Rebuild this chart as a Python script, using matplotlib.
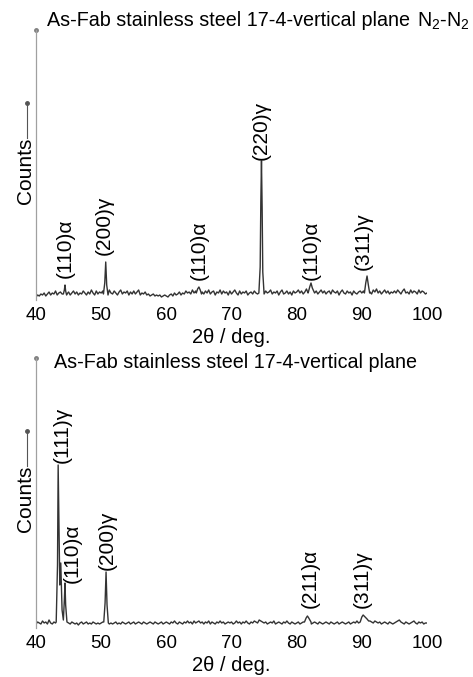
import matplotlib
matplotlib.use("Agg")
import matplotlib.pyplot as plt
import numpy as np

plt.rcParams['font.family'] = ['Liberation Sans', 'DejaVu Sans']
plt.rcParams['mathtext.fontset'] = 'custom'
plt.rcParams['mathtext.rm'] = 'Liberation Sans'
plt.rcParams['mathtext.it'] = 'Liberation Sans:italic'

# background noise, 2theta from 40 to 100 every 0.25 deg
grid = np.arange(40, 100.001, 0.25)
top_bg = [0, 2, 1, 3, 2, 4, 1, 3, 5, 2, 4, 3, 6, 2, 4, 5, 3, 6, 4, 3,
          5, 2, 4, 6, 3, 5, 2, 4, 3, 6, 4, 2, 5, 3, 7, 4, 2, 6, 3, 5,
          4, 6, 3, 5, 2, 7, 4, 3, 6, 4, 2, 5, 7, 3, 5, 4, 6, 2, 5, 3,
          6, 3, 5, 7, 2, 4, 3, 5, 2, 3, 1, 2, 3, 1, 2, 1, 2, 0, 1, 2,
          1, 0, 2, 3, 1, 4, 2, 3, 5, 2, 4, 3, 6, 4, 5, 3, 7, 4, 6, 5,
          7, 4, 5, 3, 6, 4, 7, 3, 5, 6, 2, 5, 4, 7, 3, 6, 4, 5, 2, 6,
          3, 5, 7, 4, 2, 6, 3, 5, 4, 6, 2, 4, 5, 3, 6, 4, 3, 5, 2, 4,
          3, 6, 4, 5, 7, 3, 5, 4, 6, 2, 5, 7, 3, 4, 6, 3, 5, 2, 6, 4,
          5, 7, 4, 6, 3, 5, 8, 4, 6, 5, 7, 4, 6, 3, 5, 7, 4, 6, 3, 5,
          6, 3, 7, 5, 4, 6, 2, 5, 7, 4, 3, 6, 4, 5, 2, 6, 4, 3, 5, 6,
          4, 6, 5, 7, 4, 5, 3, 7, 5, 8, 4, 6, 3, 5, 7, 4, 6, 3, 5, 4,
          6, 4, 7, 5, 3, 6, 8, 4, 5, 3, 7, 4, 6, 5, 3, 7, 4, 6, 5, 3,
          4]
bot_bg = [1, 3, 2, 1, 4, 2, 3, 1, 5, 2, 1, 3, 2, 1, 2, 3, 2, 1, 2, 3,
          2, 1, 3, 2, 1, 2, 0, 2, 3, 1, 2, 3, 1, 2, 1, 3, 2, 1, 2, 1,
          2, 3, 1, 2, 3, 1, 2, 1, 2, 3, 1, 2, 1, 3, 2, 1, 2, 3, 1, 2,
          3, 1, 2, 3, 2, 1, 3, 2, 1, 2, 3, 2, 1, 3, 2, 1, 2, 3, 1, 2,
          3, 2, 1, 3, 2, 4, 2, 1, 3, 2, 1, 3, 2, 4, 2, 3, 1, 4, 2, 3,
          4, 2, 3, 1, 3, 2, 4, 1, 3, 2, 1, 3, 2, 4, 2, 3, 1, 2, 3, 2,
          3, 1, 2, 4, 2, 3, 1, 3, 2, 4, 2, 1, 3, 2, 4, 3, 2, 5, 4, 3,
          2, 3, 1, 2, 3, 2, 4, 1, 2, 3, 2, 1, 3, 2, 4, 2, 1, 3, 2, 1,
          2, 3, 1, 2, 3, 2, 1, 3, 2, 1, 2, 3, 2, 1, 3, 2, 1, 2, 3, 2,
          1, 3, 2, 1, 2, 3, 1, 2, 3, 2, 1, 2, 3, 1, 2, 3, 2, 4, 2, 3,
          3, 4, 2, 3, 2, 4, 3, 2, 4, 3, 2, 3, 1, 2, 3, 2, 1, 3, 2, 1,
          2, 3, 4, 5, 3, 2, 1, 3, 2, 1, 2, 3, 4, 2, 1, 3, 2, 3, 1, 2,
          2]

# peak profiles (2theta, counts)
top_peaks_x = [[44.2, 44.35, 44.45, 44.55, 44.7],
               [50.35, 50.55, 50.7, 50.85, 51.05],
               [64.6, 64.8, 65.0, 65.2, 65.4],
               [74.2, 74.4, 74.5, 74.6, 74.7, 74.8, 75.0],
               [81.8, 82.0, 82.2, 82.4, 82.6],
               [90.4, 90.6, 90.8, 91.0, 91.2]]
top_peaks_y = [[3, 7, 12, 6, 2],
               [3, 14, 35, 12, 2],
               [4, 8, 10, 7, 3],
               [4, 30, 95, 136, 90, 25, 3],
               [5, 10, 14, 9, 6],
               [4, 14, 21, 12, 4]]
bot_peaks_x = [[43.1, 43.3, 43.4, 43.5, 43.65, 43.8, 44.0, 44.2, 44.35, 44.45, 44.55, 44.75],
               [50.4, 50.6, 50.75, 50.9, 51.1],
               [81.2, 81.45, 81.65, 81.85, 82.2],
               [89.8, 90.0, 90.2, 90.5, 90.8, 91.05]]
bot_peaks_y = [[3, 60, 160, 110, 40, 62, 15, 5, 25, 42, 20, 3],
               [3, 22, 53, 20, 2],
               [3, 7, 9, 7, 3],
               [4, 8, 10, 8, 6, 4]]

top_labels = ['(110)α', '(200)γ', '(110)α', '(220)γ', '(110)α', '(311)γ']
bot_labels = ['(111)γ', '(110)α', '(200)γ', '(211)α', '(311)γ']
# peak each label sits on (2theta, counts)
top_label_peak = [(44.45, 12), (50.7, 35), (65.0, 10), (74.6, 136), (82.2, 14), (90.8, 21)]
bot_label_peak = [(43.4, 160), (44.45, 42), (50.75, 53), (81.65, 9), (90.2, 10)]
top_offsets = [(0, 7), (-1, 7), (0, 7), (0, 1), (0, 3), (-4, 6)]
bot_offsets = [(4, 2), (7, 0), (1, 2), (3, 8), (-1, 7)]


def merge(bg, px, py):
    x = np.array(grid)
    y = np.array(bg, dtype=float)
    keep = np.ones(len(x), dtype=bool)
    for xs in px:
        keep &= ~((x >= xs[0]) & (x <= xs[-1]))
    x = np.concatenate([x[keep]] + [np.array(p) for p in px])
    y = np.concatenate([y[keep]] + [np.array(p, dtype=float) for p in py])
    order = np.argsort(x)
    return x[order], y[order]


def draw(ax, bg, px, py, labels, anchors, offsets):
    x, y = merge(bg, px, py)
    ax.plot(x, y, color='#333333', lw=1.0)
    ax.set_xlim(40, 100)
    ax.set_ylim(-3, 267)
    for s in ['top', 'right', 'bottom']:
        ax.spines[s].set_visible(False)
    ax.spines['left'].set_color('#a0a0a0')
    ax.spines['left'].set_linewidth(0.9)
    ax.plot([0], [1], transform=ax.transAxes, marker='o', ms=2.5,
            color='#808080', clip_on=False)
    ax.set_xticks([40, 50, 60, 70, 80, 90, 100])
    ax.set_yticks([])
    ax.tick_params(axis='x', length=0, pad=5, labelsize=13.5)
    ax.set_xlabel('2θ / deg.', fontsize=14.5, labelpad=3)
    # Counts ---- arrow on the left
    ax.text(-0.028, 0.48, 'Counts', rotation=90, transform=ax.transAxes,
            ha='center', va='center', fontsize=15)
    ax.plot([-0.023, -0.023], [0.60, 0.73], transform=ax.transAxes,
            color='#555555', lw=0.8, clip_on=False)
    ax.plot([-0.023], [0.73], transform=ax.transAxes, marker='o', ms=2.5,
            color='#555555', clip_on=False)
    for lab, (xp, yp), off in zip(labels, anchors, offsets):
        ax.annotate(lab, (xp, yp), xytext=off, textcoords='offset pixels',
                    rotation=90, ha='center', va='bottom', fontsize=15)


fig = plt.figure(figsize=(4.73, 6.77), dpi=100)
ax_top = fig.add_axes([36 / 473, 1 - 300 / 677, 391 / 473, 270 / 677])
ax_bot = fig.add_axes([36 / 473, 1 - 628 / 677, 391 / 473, 270 / 677])

draw(ax_top, top_bg, top_peaks_x, top_peaks_y, top_labels, top_label_peak, top_offsets)
draw(ax_bot, bot_bg, bot_peaks_x, bot_peaks_y, bot_labels, bot_label_peak, bot_offsets)

fig.text(228 / 473, 1 - 20 / 677, 'As-Fab stainless steel 17-4-vertical plane',
         ha='center', va='center', fontsize=14.2)
fig.text(443 / 473, 1 - 21 / 677, r'N$_2$-N$_2$', ha='center', va='center', fontsize=14.2)
fig.text(235 / 473, 1 - 363 / 677, 'As-Fab stainless steel 17-4-vertical plane',
         ha='center', va='center', fontsize=14.2)

fig.savefig('out.png', dpi=100)
